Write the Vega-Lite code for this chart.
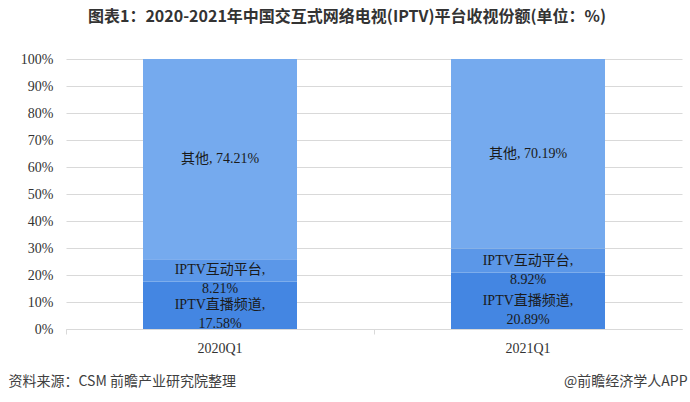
{
  "$schema": "https://vega.github.io/schema/vega-lite/v6.json",
  "width": 616,
  "height": 270,
  "autosize": {"type": "none"},
  "padding": {"left": 66, "top": 59, "right": 8, "bottom": 73},
  "background": "white",
  "title": {
    "text": "图表1：2020-2021年中国交互式网络电视(IPTV)平台收视份额(单位：%)",
    "font": "Noto Sans CJK SC",
    "fontSize": 16,
    "fontWeight": "bold",
    "color": "#333333",
    "anchor": "middle",
    "frame": "group",
    "dx": -27,
    "offset": 27
  },
  "data": {
    "values": [
      {"period": "2020Q1", "segment": "IPTV直播频道", "value": 17.58, "k": 1, "label": "IPTV直播频道,\n17.58%"},
      {"period": "2020Q1", "segment": "IPTV互动平台", "value": 8.21, "k": 2, "label": "IPTV互动平台,\n8.21%"},
      {"period": "2020Q1", "segment": "其他", "value": 74.21, "k": 3, "label": "其他, 74.21%"},
      {"period": "2021Q1", "segment": "IPTV直播频道", "value": 20.89, "k": 1, "label": "IPTV直播频道,\n20.89%"},
      {"period": "2021Q1", "segment": "IPTV互动平台", "value": 8.92, "k": 2, "label": "IPTV互动平台,\n8.92%"},
      {"period": "2021Q1", "segment": "其他", "value": 70.19, "k": 3, "label": "其他, 70.19%"}
    ]
  },
  "layer": [
    {
      "mark": {"type": "bar"},
      "encoding": {
        "x": {
          "field": "period",
          "type": "nominal",
          "scale": {"paddingInner": 0.5, "paddingOuter": 0.25},
          "axis": {
            "orient": "bottom",
            "labelAngle": 0,
            "labelFont": "Liberation Serif",
            "labelFontSize": 14,
            "labelColor": "#333333",
            "labelPadding": 7,
            "domainColor": "#d9d9d9",
            "tickColor": "#d9d9d9",
            "tickSize": 5,
            "bandPosition": -0.5,
            "title": "资料来源：CSM 前瞻产业研究院整理",
            "titleFont": "Noto Sans CJK SC",
            "titleFontSize": 14,
            "titleFontWeight": "normal",
            "titleColor": "#404040",
            "titleAnchor": "start",
            "titleAlign": "left",
            "titleBaseline": "middle",
            "titleX": -58,
            "titleY": 52
          }
        },
        "y": {
          "field": "value",
          "type": "quantitative",
          "stack": "zero",
          "scale": {"domain": [0, 100]},
          "axis": {
            "values": [0, 10, 20, 30, 40, 50, 60, 70, 80, 90, 100],
            "labelExpr": "datum.value + '%'",
            "labelOverlap": false,
            "labelFont": "Liberation Serif",
            "labelFontSize": 14,
            "labelColor": "#333333",
            "labelPadding": 13,
            "ticks": false,
            "domain": false,
            "gridColor": "#d9d9d9",
            "title": null
          }
        },
        "color": {
          "field": "segment",
          "type": "nominal",
          "scale": {
            "domain": ["IPTV直播频道", "IPTV互动平台", "其他"],
            "range": ["#4486E2", "#5B97E8", "#75AAEE"]
          },
          "legend": null
        },
        "order": {"field": "k", "type": "quantitative", "sort": "ascending"}
      }
    },
    {
      "mark": {
        "type": "text",
        "font": "Liberation Serif, Noto Sans CJK SC",
        "fontSize": 14,
        "color": "#1a1a1a",
        "lineBreak": "\n",
        "lineHeight": 19,
        "baseline": "middle"
      },
      "encoding": {
        "x": {
          "field": "period",
          "type": "nominal",
          "axis": {
            "orient": "bottom",
            "labels": false,
            "ticks": false,
            "domain": false,
            "grid": false,
            "title": "@前瞻经济学人APP",
            "titleFont": "Noto Sans CJK SC",
            "titleFontSize": 14,
            "titleFontWeight": "normal",
            "titleColor": "#404040",
            "titleAnchor": "end",
            "titleAlign": "right",
            "titleBaseline": "middle",
            "titleX": 621,
            "titleY": 52
          }
        },
        "y": {
          "field": "value",
          "type": "quantitative",
          "stack": "zero",
          "bandPosition": 0.5,
          "axis": {
            "values": [0, 10, 20, 30, 40, 50, 60, 70, 80, 90, 100],
            "labelExpr": "datum.value + '%'",
            "labelOverlap": false,
            "labelFont": "Liberation Serif",
            "labelFontSize": 14,
            "labelColor": "#333333",
            "labelPadding": 13,
            "ticks": false,
            "domain": false,
            "gridColor": "#d9d9d9",
            "title": null
          }
        },
        "text": {"field": "label"},
        "order": {"field": "k", "type": "quantitative", "sort": "ascending"}
      }
    }
  ],
  "resolve": {"axis": {"x": "independent"}},
  "config": {"view": {"stroke": null}}
}
